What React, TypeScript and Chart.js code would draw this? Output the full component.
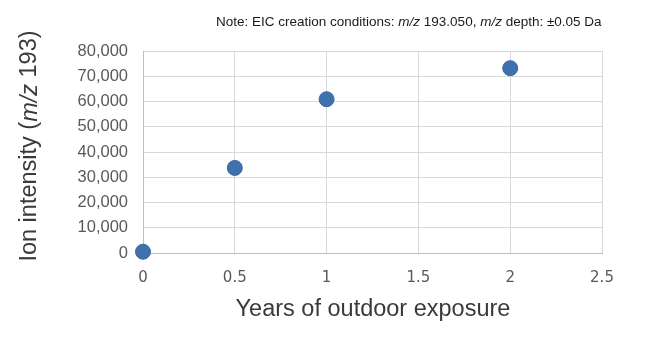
import React, { useEffect, useRef } from "react";
import { Chart, registerables } from "chart.js";

Chart.register(...registerables);

const years = [0, 0.5, 1, 2];
const intensity = [500, 33700, 60900, 73200];
const xTickValues = [0, 0.5, 1, 1.5, 2, 2.5];
const yTickValues = [0, 10000, 20000, 30000, 40000, 50000, 60000, 70000, 80000];
const xTitle = "Years of outdoor exposure";
const yTitleParts: [string, boolean][] = [["Ion intensity (", false], ["m/z", true], [" 193)", false]];
const noteParts: [string, boolean][] = [
  ["Note: EIC creation conditions: ", false],
  ["m/z", true],
  [" 193.050, ", false],
  ["m/z", true],
  [" depth: \u00b10.05 Da", false],
];

function drawParts(ctx: CanvasRenderingContext2D, parts: [string, boolean][], size: number, family: string, x: number, y: number, align: "center" | "left") {
  const widths = parts.map(([t, it]) => {
    ctx.font = `${it ? "italic " : ""}${size}px ${family}`;
    return ctx.measureText(t).width;
  });
  const total = widths.reduce((a, b) => a + b, 0);
  let cx = align === "center" ? x - total / 2 : x;
  ctx.textAlign = "left";
  ctx.textBaseline = "middle";
  parts.forEach(([t, it], i) => {
    ctx.font = `${it ? "italic " : ""}${size}px ${family}`;
    ctx.fillText(t, cx, y);
    cx += widths[i];
  });
}

const textPlugin = {
  id: "customText",
  afterDraw(chart: any) {
    const ctx = chart.ctx as CanvasRenderingContext2D;
    const area = chart.chartArea;
    ctx.save();
    ctx.fillStyle = "#1a1a1a";
    drawParts(ctx, noteParts, 13.5, "'Liberation Sans', Arial, sans-serif", 216, 22, "left");
    ctx.fillStyle = "#3a3a3a";
    ctx.font = "23.5px 'Liberation Sans', Arial, sans-serif";
    ctx.textAlign = "center";
    ctx.textBaseline = "middle";
    ctx.fillText(xTitle, 373, 310);
    ctx.translate(30, 146);
    ctx.rotate(-Math.PI / 2);
    drawParts(ctx, yTitleParts, 23.5, "'Liberation Sans', Arial, sans-serif", 0, 0, "center");
    ctx.restore();
  },
};

export default function App() {
  const ref = useRef<HTMLCanvasElement>(null);
  useEffect(() => {
    if (!ref.current) return;
    const chart = new Chart(ref.current, {
      type: "scatter",
      data: {
        datasets: [
          {
            data: years.map((x, i) => ({ x, y: intensity[i] })),
            backgroundColor: "#3f71ae",
            borderColor: "#3a679f",
            borderWidth: 1,
            pointRadius: 7.5,
            pointHoverRadius: 7.5,
            clip: false as any,
          },
        ],
      },
      options: {
        animation: false,
        responsive: false,
        layout: { padding: { top: 51, right: 54, left: 0, bottom: 0 } },
        plugins: { legend: { display: false }, tooltip: { enabled: false } },
        scales: {
          x: {
            type: "linear",
            min: 0,
            max: 2.5,
            afterFit: (s: any) => { s.height = 110; },
            afterBuildTicks: (s: any) => { s.ticks = xTickValues.map((v) => ({ value: v })); },
            ticks: {
              padding: 16,
              color: "#595959",
              font: { family: "'DejaVu Sans', Verdana, sans-serif", size: 15 },
              callback: (v: any) => String(v),
            },
            grid: { color: "#d9d9d9", drawTicks: false, lineWidth: 1 },
            border: { color: "#bfbfbf" },
          },
          y: {
            type: "linear",
            min: 0,
            max: 80000,
            afterFit: (s: any) => { s.width = 143; },
            afterBuildTicks: (s: any) => { s.ticks = yTickValues.map((v) => ({ value: v })); },
            ticks: {
              padding: 15,
              color: "#595959",
              font: { family: "'Liberation Sans', Arial, sans-serif", size: 16.5 },
              callback: (v: any) => Number(v).toLocaleString("en-US"),
            },
            grid: { color: "#d9d9d9", drawTicks: false, lineWidth: 1 },
            border: { color: "#bfbfbf" },
          },
        },
      },
      plugins: [textPlugin],
    });
    return () => chart.destroy();
  }, []);
  return (
    <div style={{ position: "absolute", left: 0, top: 0, width: 656, height: 363, background: "#fff" }}>
      <canvas ref={ref} width={656} height={363} />
    </div>
  );
}
